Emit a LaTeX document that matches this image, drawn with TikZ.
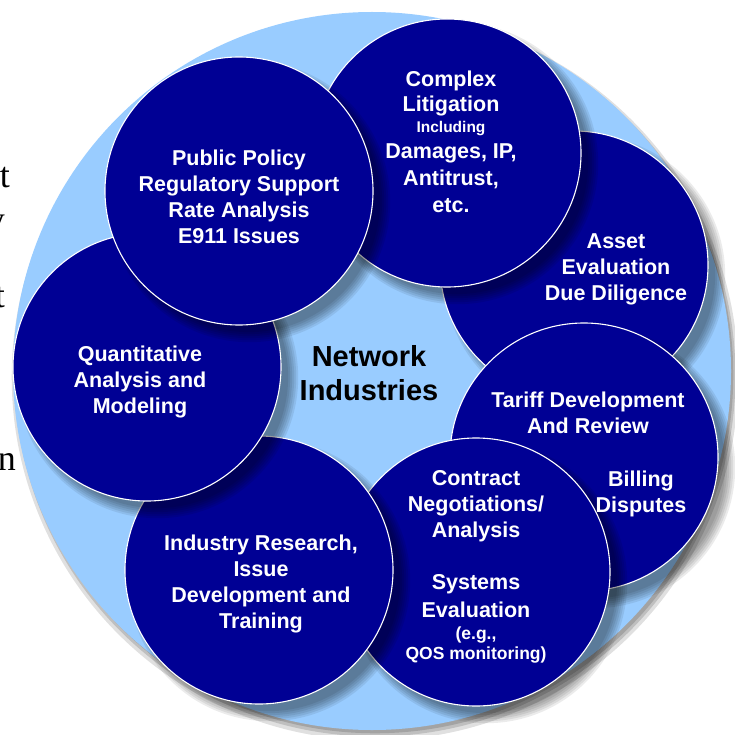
\documentclass[tikz,border=0pt]{standalone}
\usepackage{fontspec}
\newfontfamily\arialf{Liberation Sans}
\newfontfamily\serff{Liberation Serif}
\usetikzlibrary{shadows}
\definecolor{navy}{RGB}{0,0,148}
\definecolor{skyb}{RGB}{153,204,255}
\tikzset{
  shl/.style={drop shadow={shadow xshift=10pt, shadow yshift=-10pt, fill=black, opacity=0.08, shadow scale=#1}},
  softshadow/.style={shl=1.05, shl=1.036, shl=1.022, shl=1.008, shl=0.994, shl=0.98},
  bub/.style={circle, fill=navy, draw=white, line width=1.1pt, minimum size=268pt, inner sep=0pt, softshadow},
  bigc/.style={circle, fill=skyb, draw=none, minimum size=718pt, inner sep=0pt,
    drop shadow={shadow xshift=3pt, shadow yshift=-6pt, fill=black, opacity=0.12, shadow scale=1.012},
    drop shadow={shadow xshift=3pt, shadow yshift=-5pt, fill=black, opacity=0.15, shadow scale=1.004},
    drop shadow={shadow xshift=3pt, shadow yshift=-4pt, fill=black, opacity=0.15, shadow scale=0.998}},
  lbl/.style={text=white, font=\arialf\bfseries\fontsize{21.5}{26}\selectfont, align=center, inner sep=0pt},
  ctr/.style={text=black, font=\arialf\bfseries\fontsize{29}{34}\selectfont, align=center, inner sep=0pt},
  frag/.style={text=black, font=\serff\fontsize{36}{40}\selectfont, inner sep=0pt, anchor=base east},
}
\begin{document}
\begin{tikzpicture}[x=1pt, y=-1pt]
\useasboundingbox (0,0) rectangle (734,735);
% cut-off text fragments at the left edge
\node[frag] (f1) at (10,188) {t};
\node[frag] (f2) at (5,231) {y};
\node[frag] (f3) at (5,307) {t};
\node[frag] (f4) at (16,470) {n};
% background disc
\node[bigc] (disc) at (372,371) {};
% bubbles in stacking order
\node[bub] (asset) at (574,265) {};
\node[bub] (tariff) at (584,457) {};
\node[bub] (contract) at (476,572) {};
\node[bub] (industry) at (259,570) {};
\node[bub] (quant) at (147,367) {};
\node[bub] (litig) at (447,153) {};
\node[bub] (policy) at (239,191) {};
% labels
\node[lbl] (tpolicy) at (239,197) {Public Policy\\Regulatory Support\\Rate Analysis\\E911 Issues};
\node[lbl] (tlitig) at (451,142) {Complex\\[-1pt]Litigation\\[-5pt]{\fontsize{15.5}{15}\selectfont Including}\\Damages, IP,\\[1pt]Antitrust,\\[1pt]etc.};
\node[lbl] (tasset) at (616,269) {Asset\\Evaluation\\Due Diligence};
\node[lbl] (tquant) at (140,382) {Quantitative\\Analysis and\\Modeling};
\node[lbl] (ttariff) at (588,413) {Tariff Development\\And Review};
\node[lbl] (tbilling) at (641,494) {Billing\\Disputes};
\node[lbl] (tcontract) at (476,506) {Contract\\Negotiations/\\Analysis};
\node[lbl] (tsystems) at (476,619) {Systems\\[2pt]Evaluation\\[-3.5pt]{\fontsize{17.5}{18}\selectfont (e.g.,}\\[-6pt]{\fontsize{17.5}{18}\selectfont QOS monitoring)}};
\node[lbl] (tindustry) at (261,584) {Industry Research,\\Issue\\Development and\\Training};
\node[ctr] (tcenter) at (369,373) {Network\\Industries};
\end{tikzpicture}
\end{document}
